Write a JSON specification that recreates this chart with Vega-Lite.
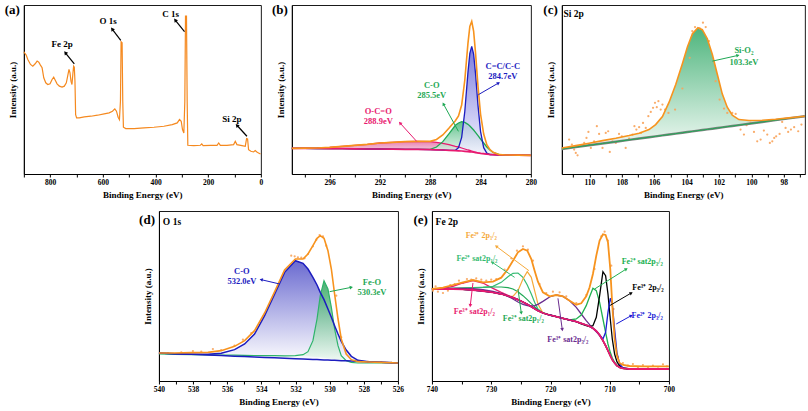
{
"$schema":"https://vega.github.io/schema/vega-lite/v6.json",
"padding":{"left":3.5,"top":3,"right":2,"bottom":2},
"background":"white",
"datasets":{
"a":[{"E":899.5,"v":366},{"E":897.5,"v":363},{"E":891.2,"v":356},{"E":884.9,"v":343},{"E":874.8,"v":328},{"E":866,"v":323},{"E":857.1,"v":330},{"E":849.6,"v":338},{"E":843.3,"v":335},{"E":837,"v":326},{"E":830.7,"v":318},{"E":824.4,"v":288},{"E":816.8,"v":273},{"E":809.2,"v":268},{"E":800.4,"v":270},{"E":792.8,"v":283},{"E":786.6,"v":290},{"E":780.2,"v":280},{"E":773.9,"v":270},{"E":765.1,"v":263},{"E":755,"v":260},{"E":746.3,"v":263},{"E":738.7,"v":273},{"E":733.6,"v":293},{"E":728.6,"v":313},{"E":724.8,"v":303},{"E":721,"v":278},{"E":717.3,"v":268},{"E":713.5,"v":303},{"E":711,"v":323},{"E":708.4,"v":320},{"E":705.9,"v":278},{"E":703.4,"v":178},{"E":699.6,"v":168},{"E":689.5,"v":168},{"E":670.6,"v":171},{"E":645.4,"v":173},{"E":620.2,"v":176},{"E":595,"v":180},{"E":576.1,"v":183},{"E":563.5,"v":188},{"E":554.6,"v":195},{"E":548.3,"v":188},{"E":542,"v":170},{"E":537,"v":163},{"E":533.2,"v":218},{"E":530.7,"v":396},{"E":526.9,"v":393},{"E":524.4,"v":218},{"E":521.9,"v":140},{"E":513,"v":136},{"E":481.5,"v":136},{"E":443.7,"v":138},{"E":405.9,"v":140},{"E":368.1,"v":143},{"E":336.6,"v":148},{"E":317.6,"v":153},{"E":308.8,"v":163},{"E":302.5,"v":158},{"E":297.5,"v":133},{"E":292.4,"v":123},{"E":288.7,"v":218},{"E":286.1,"v":473},{"E":282.4,"v":473},{"E":279.8,"v":218},{"E":277.3,"v":86},{"E":254.6,"v":85},{"E":229.4,"v":86},{"E":224.4,"v":90},{"E":219.3,"v":85},{"E":191.6,"v":86},{"E":166.4,"v":86},{"E":160.1,"v":93},{"E":153.8,"v":86},{"E":128.6,"v":86},{"E":103.4,"v":88},{"E":97.1,"v":98},{"E":90.8,"v":88},{"E":71.8,"v":85},{"E":59.2,"v":83},{"E":54.2,"v":106},{"E":50.4,"v":105},{"E":46.6,"v":73},{"E":37.8,"v":68},{"E":27.7,"v":66},{"E":21.4,"v":70},{"E":15.1,"v":66},{"E":8.8,"v":63},{"E":1.3,"v":60}],
"aT":[{"E":755,"v":388,"t":"Fe 2p"},{"E":579.8,"v":458,"t":"O 1s"},{"E":342.9,"v":480,"t":"C 1s"},{"E":109.7,"v":166,"t":"Si 2p"}],
"aA":[{"E":742.4,"v":363,"E0":708.4,"v0":330},{"E":564.7,"v":434,"E0":531.9,"v0":400},{"E":325.2,"v":461,"E0":289.9,"v0":426},{"E":90.8,"v":146,"E0":52.9,"v0":113}],
"b":[{"E":299,"bg":77,"oco":77,"co":77,"cc":77,"env":77},{"E":298,"bg":77,"oco":77.5,"co":77,"cc":77,"env":77.5},{"E":297,"bg":76.5,"oco":78,"co":76.5,"cc":76.5,"env":78},{"E":296,"bg":76,"oco":80,"co":76,"cc":76,"env":80},{"E":295,"bg":76,"oco":83,"co":76,"cc":76,"env":83},{"E":294,"bg":75.5,"oco":86,"co":75.5,"cc":75.5,"env":86},{"E":293,"bg":75,"oco":89,"co":75,"cc":75,"env":89},{"E":292,"bg":75,"oco":93,"co":75,"cc":75,"env":93},{"E":291,"bg":74.5,"oco":95,"co":74.5,"cc":74.5,"env":95},{"E":290,"bg":74,"oco":97,"co":74,"cc":74,"env":97},{"E":289,"bg":74,"oco":98,"co":74,"cc":74,"env":98},{"E":288,"bg":73,"oco":97,"co":74,"cc":73,"env":98},{"E":287.5,"bg":72.5,"oco":95,"co":81,"cc":72.5,"env":103.5},{"E":287,"bg":72,"oco":92,"co":97,"cc":72,"env":117},{"E":286.5,"bg":71,"oco":88,"co":121,"cc":71,"env":138},{"E":286,"bg":70,"oco":83,"co":146,"cc":71.3,"env":160},{"E":285.75,"bg":69.5,"oco":81,"co":153,"cc":79,"env":174},{"E":285.5,"bg":69,"oco":78,"co":157,"cc":110,"env":207},{"E":285.25,"bg":68,"oco":75,"co":155,"cc":188,"env":282},{"E":285,"bg":67,"oco":72,"co":149,"cc":305,"env":392},{"E":284.85,"bg":66.5,"oco":70.5,"co":144,"cc":362,"env":443},{"E":284.7,"bg":66,"oco":69,"co":138,"cc":383,"env":458},{"E":284.55,"bg":65,"oco":67,"co":132,"cc":360,"env":429},{"E":284.4,"bg":64,"oco":65.5,"co":125,"cc":302,"env":364},{"E":284.2,"bg":63,"oco":63.5,"co":115,"cc":205,"env":262},{"E":284,"bg":62,"oco":62,"co":105,"cc":128,"env":180},{"E":283.75,"bg":61,"oco":61,"co":93,"cc":79,"env":120},{"E":283.5,"bg":59.5,"oco":59.5,"co":81,"cc":62.5,"env":88},{"E":283.25,"bg":58.5,"oco":58.5,"co":72,"cc":58.5,"env":73},{"E":283,"bg":58,"oco":58,"co":65,"cc":58,"env":65},{"E":282.5,"bg":57,"oco":57,"co":58,"cc":57,"env":58},{"E":282,"bg":57,"oco":57,"co":57,"cc":57,"env":57},{"E":281,"bg":56.5,"oco":56.5,"co":56.5,"cc":56.5,"env":56.5},{"E":280,"bg":56,"oco":56,"co":56,"cc":56,"env":56}],
"bT":[{"E":282.23,"v":325,"t":"C=C/C-C","c":"cc"},{"E":282.23,"v":295,"t":"284.7eV","c":"cc"},{"E":287.88,"v":268,"t":"C-O","c":"co"},{"E":287.88,"v":238,"t":"285.5eV","c":"co"},{"E":292.13,"v":190,"t":"O-C=O","c":"oco"},{"E":292.13,"v":160,"t":"288.9eV","c":"oco"}],
"bA":[{"E":282.57,"v":273,"E0":284.17,"v0":238,"c":"cc"},{"E":286.95,"v":210,"E0":285.76,"v0":128,"c":"co"},{"E":290.4,"v":153,"E0":289.08,"v0":98,"c":"oco"}],
"c":[{"E":111.7,"bg":75,"env":78},{"E":110.84,"bg":80.6,"env":85},{"E":110.02,"bg":86,"env":92},{"E":109.19,"bg":91.4,"env":100},{"E":108.37,"bg":96.7,"env":107},{"E":107.55,"bg":102.1,"env":115},{"E":106.93,"bg":106.1,"env":122},{"E":106.32,"bg":110.1,"env":133},{"E":105.91,"bg":112.8,"env":148},{"E":105.49,"bg":115.5,"env":172},{"E":105.08,"bg":118.2,"env":215},{"E":104.67,"bg":120.9,"env":268},{"E":104.26,"bg":123.6,"env":330},{"E":103.95,"bg":125.6,"env":380},{"E":103.64,"bg":127.6,"env":420},{"E":103.3,"bg":129.9,"env":438},{"E":103.03,"bg":131.6,"env":432},{"E":102.72,"bg":133.6,"env":405},{"E":102.41,"bg":135.6,"env":358},{"E":102.1,"bg":137.7,"env":298},{"E":101.8,"bg":139.7,"env":240},{"E":101.49,"bg":141.7,"env":200},{"E":101.18,"bg":143.7,"env":176},{"E":100.77,"bg":146.4,"env":163},{"E":100.15,"bg":150.4,"env":160},{"E":99.33,"bg":155.8,"env":161},{"E":98.51,"bg":161.2,"env":164},{"E":97.69,"bg":166.5,"env":168},{"E":96.7,"bg":173,"env":173}],
"cP":[{"E":111.25,"v":103},{"E":111.08,"v":88},{"E":110.94,"v":73},{"E":110.84,"v":63},{"E":110.73,"v":56},{"E":110.53,"v":86},{"E":110.32,"v":93},{"E":110.18,"v":108},{"E":110.06,"v":126},{"E":109.91,"v":78},{"E":109.71,"v":98},{"E":109.54,"v":143},{"E":109.4,"v":120},{"E":109.19,"v":78},{"E":108.99,"v":123},{"E":108.84,"v":128},{"E":108.74,"v":66},{"E":108.58,"v":98},{"E":108.37,"v":93},{"E":108.17,"v":120},{"E":108,"v":113},{"E":107.76,"v":78},{"E":107.55,"v":106},{"E":107.34,"v":118},{"E":107.22,"v":143},{"E":107.1,"v":133},{"E":106.93,"v":140},{"E":106.81,"v":123},{"E":106.69,"v":153},{"E":106.52,"v":138},{"E":106.36,"v":173},{"E":106.21,"v":186},{"E":106.07,"v":198},{"E":105.95,"v":213},{"E":105.84,"v":200},{"E":105.74,"v":218},{"E":105.6,"v":193},{"E":105.49,"v":208},{"E":105.33,"v":193},{"E":105.12,"v":183},{"E":104.71,"v":193},{"E":104.26,"v":256},{"E":103.81,"v":348},{"E":103.65,"v":428},{"E":103.48,"v":440},{"E":103.19,"v":436},{"E":102.99,"v":453},{"E":102.82,"v":440},{"E":102.62,"v":398},{"E":102.21,"v":278},{"E":101.96,"v":223},{"E":101.69,"v":196},{"E":101.49,"v":183},{"E":101.18,"v":183},{"E":100.97,"v":180},{"E":100.67,"v":133},{"E":100.46,"v":118},{"E":100.3,"v":146},{"E":100.05,"v":153},{"E":99.84,"v":126},{"E":99.64,"v":98},{"E":99.43,"v":103},{"E":99.23,"v":130},{"E":99.02,"v":118},{"E":98.86,"v":93},{"E":98.71,"v":98},{"E":98.59,"v":108},{"E":98.47,"v":113},{"E":98.26,"v":120},{"E":98.1,"v":156},{"E":97.89,"v":138},{"E":97.73,"v":126},{"E":97.56,"v":133},{"E":97.36,"v":140},{"E":97.11,"v":128},{"E":96.91,"v":148}],
"cT":[{"E":100.46,"v":370,"t":"Si-O₂"},{"E":100.46,"v":335,"t":"103.3eV"}],
"cA":[{"E":100.83,"v":355,"E0":102.41,"v0":338}],
"d":[{"E":540,"bg":84,"co":84,"feo":81,"gb":81,"env":84},{"E":539.08,"bg":82,"co":82,"feo":80,"gb":80,"env":84},{"E":538.11,"bg":80,"co":80.5,"feo":79,"gb":79,"env":85},{"E":537.13,"bg":77.8,"co":80,"feo":78.5,"gb":78.5,"env":86},{"E":536.35,"bg":76.2,"co":83,"feo":78,"gb":78,"env":91},{"E":535.57,"bg":74.5,"co":94,"feo":77.5,"gb":77.5,"env":104},{"E":534.98,"bg":73.2,"co":111,"feo":77,"gb":77,"env":121},{"E":534.4,"bg":72,"co":141,"feo":76.5,"gb":76.5,"env":151},{"E":533.81,"bg":70.7,"co":196,"feo":76,"gb":76,"env":204},{"E":533.22,"bg":69.5,"co":261,"feo":76,"gb":76,"env":268},{"E":532.64,"bg":68.2,"co":326,"feo":75.5,"gb":75.5,"env":333},{"E":532.01,"bg":66.9,"co":361,"feo":76,"gb":76,"env":366},{"E":531.56,"bg":65.9,"co":353,"feo":79,"gb":75,"env":366},{"E":531.27,"bg":65.3,"co":336,"feo":88,"gb":74,"env":381},{"E":530.98,"bg":64.7,"co":311,"feo":121,"gb":73,"env":406},{"E":530.74,"bg":64.2,"co":288,"feo":186,"gb":72,"env":428},{"E":530.55,"bg":63.7,"co":266,"feo":256,"gb":71,"env":436},{"E":530.33,"bg":63.3,"co":244,"feo":301,"gb":70,"env":428},{"E":530.1,"bg":62.8,"co":216,"feo":276,"gb":68,"env":391},{"E":529.9,"bg":62.4,"co":191,"feo":221,"gb":67,"env":336},{"E":529.71,"bg":62,"co":166,"feo":156,"gb":65,"env":261},{"E":529.51,"bg":61.5,"co":141,"feo":106,"gb":63,"env":186},{"E":529.32,"bg":61.1,"co":119,"feo":76,"gb":61,"env":126},{"E":529.03,"bg":60.5,"co":93,"feo":61,"gb":58,"env":81},{"E":528.73,"bg":59.9,"co":74,"feo":56,"gb":56,"env":64},{"E":528.34,"bg":59,"co":62,"feo":54,"gb":54,"env":58},{"E":527.76,"bg":57.8,"co":57.8,"feo":54,"gb":54,"env":57},{"E":526.98,"bg":56.1,"co":56.1,"feo":54,"gb":54,"env":56},{"E":526,"bg":54,"co":54,"feo":54,"gb":54,"env":54}],
"dP":[{"E":539.47,"v":84},{"E":538.69,"v":86},{"E":538.01,"v":90},{"E":537.52,"v":88},{"E":536.84,"v":96},{"E":536.35,"v":93},{"E":535.57,"v":106},{"E":535.08,"v":124},{"E":534.59,"v":144},{"E":532.25,"v":376},{"E":532.05,"v":374},{"E":531.86,"v":371},{"E":531.66,"v":370},{"E":531.47,"v":368},{"E":531.27,"v":381},{"E":530.98,"v":404},{"E":530.78,"v":424},{"E":530.59,"v":438},{"E":530.39,"v":434},{"E":530.2,"v":406},{"E":529.61,"v":256},{"E":529.32,"v":131},{"E":528.54,"v":61},{"E":527.76,"v":58},{"E":526.98,"v":57},{"E":526.39,"v":55}],
"dT":[{"E":535.14,"v":331,"t":"C-O","c":"co"},{"E":535.14,"v":301,"t":"532.0eV","c":"co"},{"E":527.52,"v":298,"t":"Fe-O","c":"feo"},{"E":527.52,"v":268,"t":"530.3eV","c":"feo"}],
"dA":[{"E":534.01,"v":304,"E0":532.93,"v0":291,"c":"co"},{"E":528.73,"v":281,"E0":530.0,"v0":268,"c":"feo"}],
"e":[{"E":740,"bg":276,"p31":276,"g21b":276,"g21":276,"o21":276,"p33":276,"g23":276,"b33":276,"bl23":276,"env":276},
{"E":738.14,"bg":276,"p31":278,"g21b":277,"g21":277,"o21":276,"p33":277,"g23":276,"b33":276,"bl23":276,"env":280},
{"E":736.46,"bg":276,"p31":284,"g21b":278,"g21":278,"o21":276,"p33":278,"g23":276,"b33":276,"bl23":276,"env":288},
{"E":734.77,"bg":275,"p31":294,"g21b":279,"g21":279,"o21":275,"p33":278,"g23":275,"b33":275,"bl23":275,"env":296},
{"E":733.08,"bg":273,"p31":301,"g21b":280,"g21":280,"o21":273,"p33":277,"g23":273,"b33":273,"bl23":273,"env":303},
{"E":731.39,"bg":270,"p31":294,"g21b":281,"g21":281,"o21":270,"p33":274,"g23":270,"b33":270,"bl23":270,"env":296},
{"E":729.7,"bg":266,"p31":278,"g21b":282,"g21":284,"o21":266,"p33":269,"g23":266,"b33":266,"bl23":266,"env":298},
{"E":728.3,"bg":261,"p31":266,"g21b":282,"g21":296,"o21":261,"p33":262,"g23":261,"b33":261,"bl23":261,"env":310},
{"E":727.17,"bg":255,"p31":257,"g21b":280,"g21":313,"o21":255,"p33":254,"g23":255,"b33":255,"bl23":255,"env":336},
{"E":726.33,"bg":250,"p31":250,"g21b":276,"g21":323,"o21":254,"p33":246,"g23":250,"b33":250,"bl23":250,"env":361},
{"E":725.48,"bg":244,"p31":244,"g21b":268,"g21":324,"o21":271,"p33":237,"g23":244,"b33":244,"bl23":244,"env":386},
{"E":724.64,"bg":237,"p31":237,"g21b":256,"g21":311,"o21":306,"p33":230,"g23":237,"b33":237,"bl23":237,"env":396},
{"E":723.91,"bg":230,"p31":230,"g21b":244,"g21":288,"o21":328,"p33":226,"g23":230,"b33":230,"bl23":230,"env":391},
{"E":723.23,"bg":223,"p31":223,"g21b":232,"g21":261,"o21":311,"p33":225,"g23":223,"b33":223,"bl23":223,"env":366},
{"E":722.67,"bg":217,"p31":217,"g21b":223,"g21":236,"o21":271,"p33":226,"g23":217,"b33":217,"bl23":217,"env":331},
{"E":722.11,"bg":211,"p31":211,"g21b":214,"g21":216,"o21":231,"p33":230,"g23":211,"b33":211,"bl23":211,"env":298},
{"E":721.27,"bg":204,"p31":204,"g21b":205,"g21":204,"o21":204,"p33":239,"g23":204,"b33":204,"bl23":204,"env":266},
{"E":720.14,"bg":198,"p31":198,"g21b":198,"g21":198,"o21":198,"p33":252,"g23":198,"b33":198,"bl23":198,"env":254},
{"E":719.01,"bg":193,"p31":193,"g21b":193,"g21":193,"o21":193,"p33":258,"g23":193,"b33":193,"bl23":193,"env":258},
{"E":717.89,"bg":188,"p31":188,"g21b":188,"g21":188,"o21":188,"p33":254,"g23":188,"b33":188,"bl23":188,"env":254},
{"E":716.76,"bg":183,"p31":183,"g21b":183,"g21":183,"o21":183,"p33":241,"g23":183,"b33":183,"bl23":183,"env":241},
{"E":715.64,"bg":178,"p31":178,"g21b":178,"g21":178,"o21":178,"p33":221,"g23":186,"b33":178,"bl23":178,"env":229},
{"E":714.8,"bg":173,"p31":173,"g21b":173,"g21":173,"o21":173,"p33":201,"g23":198,"b33":171,"bl23":173,"env":233},
{"E":713.96,"bg":168,"p31":168,"g21b":168,"g21":168,"o21":168,"p33":181,"g23":226,"b33":166,"bl23":168,"env":254},
{"E":713.39,"bg":164,"p31":164,"g21b":164,"g21":164,"o21":164,"p33":169,"g23":253,"b33":163,"bl23":164,"env":281},
{"E":712.83,"bg":158,"p31":158,"g21b":158,"g21":158,"o21":158,"p33":158,"g23":278,"b33":166,"bl23":158,"env":321},
{"E":712.26,"bg":150,"p31":150,"g21b":150,"g21":150,"o21":150,"p33":148,"g23":271,"b33":191,"bl23":150,"env":376},
{"E":711.7,"bg":138,"p31":138,"g21b":138,"g21":138,"o21":138,"p33":136,"g23":236,"b33":256,"bl23":138,"env":421},
{"E":711.14,"bg":121,"p31":121,"g21b":121,"g21":121,"o21":121,"p33":121,"g23":186,"b33":328,"bl23":126,"env":440},
{"E":710.69,"bg":106,"p31":106,"g21b":106,"g21":106,"o21":106,"p33":106,"g23":146,"b33":316,"bl23":146,"env":438},
{"E":710.29,"bg":91,"p31":91,"g21b":91,"g21":91,"o21":91,"p33":91,"g23":111,"b33":261,"bl23":206,"env":416},
{"E":709.9,"bg":76,"p31":76,"g21b":76,"g21":76,"o21":76,"p33":76,"g23":86,"b33":186,"bl23":248,"env":336},
{"E":709.56,"bg":64,"p31":64,"g21b":64,"g21":64,"o21":64,"p33":64,"g23":69,"b33":126,"bl23":231,"env":226},
{"E":709.17,"bg":54,"p31":54,"g21b":54,"g21":54,"o21":54,"p33":54,"g23":56,"b33":81,"bl23":156,"env":126},
{"E":708.78,"bg":46,"p31":46,"g21b":46,"g21":46,"o21":46,"p33":46,"g23":48,"b33":58,"bl23":86,"env":76},
{"E":708.33,"bg":41,"p31":41,"g21b":41,"g21":41,"o21":41,"p33":41,"g23":42,"b33":46,"bl23":51,"env":54},
{"E":707.77,"bg":38,"p31":38,"g21b":38,"g21":38,"o21":38,"p33":38,"g23":38,"b33":39,"bl23":39,"env":48},
{"E":706.64,"bg":36,"p31":36,"g21b":36,"g21":36,"o21":36,"p33":36,"g23":36,"b33":36,"bl23":36,"env":45},
{"E":704.39,"bg":36,"p31":36,"g21b":36,"g21":36,"o21":36,"p33":36,"g23":36,"b33":36,"bl23":36,"env":44},
{"E":702.14,"bg":36,"p31":36,"g21b":36,"g21":36,"o21":36,"p33":36,"g23":36,"b33":36,"bl23":36,"env":44},
{"E":700,"bg":36,"p31":36,"g21b":36,"g21":36,"o21":36,"p33":36,"g23":36,"b33":36,"bl23":36,"env":44}],
"eP":[{"E":739.83,"v":271},{"E":739.38,"v":284},{"E":738.99,"v":268},{"E":738.59,"v":278},{"E":738.14,"v":264},{"E":737.69,"v":281},{"E":737.3,"v":271},{"E":736.91,"v":288},{"E":736.17,"v":291},{"E":735.44,"v":301},{"E":734.77,"v":294},{"E":734.09,"v":306},{"E":733.36,"v":304},{"E":732.52,"v":308},{"E":731.67,"v":304},{"E":730.83,"v":301},{"E":729.99,"v":304},{"E":729.14,"v":306},{"E":727.74,"v":334},{"E":726.61,"v":368},{"E":725.65,"v":391},{"E":724.64,"v":404},{"E":723.8,"v":394},{"E":722.95,"v":361},{"E":721.83,"v":291},{"E":720.7,"v":264},{"E":719.58,"v":268},{"E":718.45,"v":266},{"E":717.33,"v":254},{"E":715.64,"v":234},{"E":713.96,"v":258},{"E":712.55,"v":336},{"E":711.42,"v":434},{"E":710.86,"v":448},{"E":710.29,"v":421},{"E":709.73,"v":346},{"E":709.34,"v":216},{"E":708.61,"v":71},{"E":707.77,"v":54},{"E":706.92,"v":46},{"E":706.08,"v":51},{"E":705.23,"v":41},{"E":704.39,"v":48},{"E":703.54,"v":40},{"E":702.7,"v":46},{"E":701.85,"v":38},{"E":701.01,"v":50},{"E":700.34,"v":44}],
"eT":[{"E":731.67,"v":434,"t":"Fe²⁺ 2p₁/₂","c":"o21"},{"E":732.4,"v":366,"t":"Fe²⁺ sat2p₁/₂","c":"g21"},{"E":732.85,"v":206,"t":"Fe³⁺ sat2p₁/₂","c":"p31"},{"E":724.58,"v":186,"t":"Fe²⁺ sat2p₁/₂","c":"g21b"},{"E":717.05,"v":124,"t":"Fe³⁺ sat2p₃/₂","c":"p33"},{"E":704.5,"v":356,"t":"Fe²⁺ sat2p₃/₂","c":"g23"},{"E":703.54,"v":279,"t":"Fe³⁺ 2p₃/₂","c":"b33"},{"E":703.66,"v":196,"t":"Fe²⁺ 2p₃/₂","c":"bl23"}],
"eA":[{"E":729.14,"v":404,"E0":723.63,"v0":331,"c":"o21"},{"E":729.82,"v":356,"E0":726.05,"v0":311,"c":"g21"},{"E":733.53,"v":226,"E0":733.08,"v0":294,"c":"p31"},{"E":724.92,"v":204,"E0":725.48,"v0":276,"c":"g21b"},{"E":718,"v":154,"E0":718.73,"v0":248,"c":"p33"},{"E":707.2,"v":336,"E0":712.55,"v0":276,"c":"g23"},{"E":706.36,"v":264,"E0":710.01,"v0":226,"c":"b33"},{"E":706.36,"v":196,"E0":708.89,"v0":171,"c":"bl23"}]
},
"vconcat":[
{"hconcat":[
{"width":237,"height":169,
"data":{"name":"a"},
"encoding":{"x":{"field":"E","type":"quantitative","scale":{"domain":[0,900],"reverse":true,"nice":false,"zero":false},"axis":{"title":"Binding Energy (eV)","values":[0,100,200,300,400,500,600,700,800,900],"labelExpr":"datum.value % 200 == 0 && datum.value < 900 ? datum.label : ''"}},
"y":{"field":"v","type":"quantitative","scale":{"domain":[0,506],"nice":false,"zero":false},"axis":{"title":"Intensity (a.u.)"}}},
"layer":[
{"mark":{"type":"line","color":"#f5891f","strokeWidth":1.2}},
{"data":{"name":"aA"},"mark":{"type":"rule","color":"#000","strokeWidth":1.2},"encoding":{"x2":{"field":"E0"},"y2":{"field":"v0"}}},
{"data":{"name":"aA"},"transform":[{"calculate":"atan2(-(datum.E-datum.E0)*0.2633,(datum.v-datum.v0)*0.334)*180/PI","as":"ang"}],
"mark":{"type":"point","shape":"triangle-up","filled":true,"size":18,"color":"#000","opacity":1},
"encoding":{"angle":{"field":"ang","type":"quantitative","scale":null}}},
{"data":{"name":"aT"},"mark":{"type":"text","fontSize":9,"color":"#000"},"encoding":{"text":{"field":"t"}}},
{"data":{"values":[{"E":915.2,"v":479,"t":"(a)"}]},"mark":{"type":"text","fontSize":13,"color":"#000","align":"right","baseline":"alphabetic"},"encoding":{"text":{"field":"t"}}}
]},
{"width":239,"height":169,
"data":{"name":"b"},
"transform":[{"fold":["bg","oco","co","cc","env"],"as":["k","v"]}],
"encoding":{"x":{"field":"E","type":"quantitative","scale":{"domain":[280,299],"reverse":true,"nice":false,"zero":false},"axis":{"title":"Binding Energy (eV)","values":[280,282,284,286,288,290,292,294,296,298],"labelExpr":"datum.value % 4 == 0 ? datum.label : ''"}},
"y":{"field":"v","type":"quantitative","scale":{"domain":[0,507],"nice":false,"zero":false},"axis":{"title":"Intensity (a.u.)"}}},
"layer":[
{"transform":[{"filter":"datum.k == 'oco'"}],"mark":{"type":"area","opacity":0.75,"fill":{"gradient":"linear","x1":0,"y1":0,"x2":0,"y2":1,"stops":[{"offset":0,"color":"#e0589a"},{"offset":1,"color":"#fbe6f0"}]}},"encoding":{"y2":{"field":"bg"}}},
{"transform":[{"filter":"datum.k == 'co'"}],"mark":{"type":"area","opacity":0.8,"fill":{"gradient":"linear","x1":0,"y1":0,"x2":0,"y2":1,"stops":[{"offset":0,"color":"#3cb371"},{"offset":1,"color":"#f4fbf7"}]}},"encoding":{"y2":{"field":"bg"}}},
{"transform":[{"filter":"datum.k == 'cc'"}],"mark":{"type":"area","opacity":0.8,"fill":{"gradient":"linear","x1":0,"y1":0,"x2":0,"y2":1,"stops":[{"offset":0,"color":"#5a5ad6"},{"offset":1,"color":"#f4f4ff"}]}},"encoding":{"y2":{"field":"bg"}}},
{"transform":[{"filter":"datum.k == 'oco'"}],"mark":{"type":"line","color":"#e8196f","strokeWidth":1.3}},
{"transform":[{"filter":"datum.k == 'co'"}],"mark":{"type":"line","color":"#1fa855","strokeWidth":1.3}},
{"transform":[{"filter":"datum.k == 'cc'"}],"mark":{"type":"line","color":"#1c1cbf","strokeWidth":1.3}},
{"transform":[{"filter":"datum.k == 'bg'"}],"mark":{"type":"line","color":"#e8196f","strokeWidth":1.6}},
{"transform":[{"filter":"datum.k == 'env'"}],"mark":{"type":"line","color":"#f7931e","strokeWidth":1.6}},
{"data":{"name":"bA"},"mark":{"type":"rule","strokeWidth":1},
"encoding":{"x2":{"field":"E0"},"y2":{"field":"v0"},"color":{"field":"c","type":"nominal","scale":{"domain":["oco","co","cc"],"range":["#e8196f","#1fa855","#1c1cbf"]},"legend":null}}},
{"data":{"name":"bA"},"transform":[{"calculate":"atan2(-(datum.E-datum.E0)*12.58,(datum.v-datum.v0)*0.3333)*180/PI","as":"ang"}],
"mark":{"type":"point","shape":"triangle-up","filled":true,"size":14,"opacity":1},
"encoding":{"angle":{"field":"ang","type":"quantitative","scale":null},"color":{"field":"c","type":"nominal","scale":{"domain":["oco","co","cc"],"range":["#e8196f","#1fa855","#1c1cbf"]},"legend":null}}},
{"data":{"name":"bT"},"mark":{"type":"text","fontSize":8.5},
"encoding":{"text":{"field":"t"},"color":{"field":"c","type":"nominal","scale":{"domain":["oco","co","cc"],"range":["#e8196f","#1fa855","#1c1cbf"]},"legend":null}}},
{"data":{"values":[{"E":299.32,"v":480,"t":"(b)"}]},"mark":{"type":"text","fontSize":13,"color":"#000","align":"right","baseline":"alphabetic"},"encoding":{"text":{"field":"t"}}}
]},
{"width":243,"height":169,
"data":{"name":"c"},
"transform":[{"fold":["bg","env"],"as":["k","v"]}],
"encoding":{"x":{"field":"E","type":"quantitative","scale":{"domain":[96.7,111.7],"reverse":true,"nice":false,"zero":false},"axis":{"title":"Binding Energy (eV)","values":[97,98,99,100,101,102,103,104,105,106,107,108,109,110,111],"labelExpr":"datum.value % 2 == 0 ? datum.label : ''"}},
"y":{"field":"v","type":"quantitative","scale":{"domain":[0,506],"nice":false,"zero":false},"axis":{"title":"Intensity (a.u.)"}}},
"layer":[
{"transform":[{"filter":"datum.k == 'env'"}],"mark":{"type":"area","opacity":0.85,"fill":{"gradient":"linear","x1":0,"y1":0,"x2":0,"y2":1,"stops":[{"offset":0,"color":"#2fa866"},{"offset":1,"color":"#eef8f2"}]}},"encoding":{"y2":{"field":"bg"}}},
{"data":{"name":"cP"},"mark":{"type":"point","shape":"circle","filled":true,"size":5,"color":"#f8a35a","opacity":0.9}},
{"transform":[{"filter":"datum.k == 'bg'"}],"mark":{"type":"line","color":"#808080","strokeWidth":2.4}},
{"transform":[{"filter":"datum.k == 'bg'"}],"mark":{"type":"line","color":"#1fa855","strokeWidth":1}},
{"transform":[{"filter":"datum.k == 'env'"}],"mark":{"type":"line","color":"#f7931e","strokeWidth":1.6}},
{"data":{"name":"cA"},"mark":{"type":"rule","strokeWidth":1,"color":"#1fa855"},"encoding":{"x2":{"field":"E0"},"y2":{"field":"v0"}}},
{"data":{"name":"cA"},"transform":[{"calculate":"atan2(-(datum.E-datum.E0)*16.2,(datum.v-datum.v0)*0.334)*180/PI","as":"ang"}],
"mark":{"type":"point","shape":"triangle-up","filled":true,"size":14,"opacity":1,"color":"#1fa855"},
"encoding":{"angle":{"field":"ang","type":"quantitative","scale":null}}},
{"data":{"name":"cT"},"mark":{"type":"text","fontSize":8.5,"color":"#1fa855"},"encoding":{"text":{"field":"t"}}},
{"data":{"values":[{"E":111.6,"v":478,"t":"Si 2p"}]},"mark":{"type":"text","fontSize":9.5,"color":"#000","align":"left"},"encoding":{"text":{"field":"t"}}},
{"data":{"values":[{"E":111.95,"v":479,"t":"(c)"}]},"mark":{"type":"text","fontSize":13,"color":"#000","align":"right","baseline":"alphabetic"},"encoding":{"text":{"field":"t"}}}
]}
],"spacing":31,"bounds":"flush","resolve":{"scale":{"color":"independent"}}},
{"hconcat":[
{"width":239,"height":170,
"data":{"name":"d"},
"transform":[{"fold":["bg","co","feo","env"],"as":["k","v"]}],
"encoding":{"x":{"field":"E","type":"quantitative","scale":{"domain":[526,540],"reverse":true,"nice":false,"zero":false},"axis":{"title":"Binding Energy (eV)","values":[526,527,528,529,530,531,532,533,534,535,536,537,538,539,540],"labelExpr":"datum.value % 2 == 0 ? datum.label : ''"}},
"y":{"field":"v","type":"quantitative","scale":{"domain":[0,510],"nice":false,"zero":false},"axis":{"title":"Intensity (a.u.)"}}},
"layer":[
{"transform":[{"filter":"datum.k == 'co'"}],"mark":{"type":"area","opacity":0.85,"fill":{"gradient":"linear","x1":0,"y1":0,"x2":0,"y2":1,"stops":[{"offset":0,"color":"#5050c8"},{"offset":1,"color":"#ffffff"}]}},"encoding":{"y2":{"field":"bg"}}},
{"transform":[{"filter":"datum.k == 'feo'"}],"mark":{"type":"area","opacity":0.85,"fill":{"gradient":"linear","x1":0,"y1":0,"x2":0,"y2":1,"stops":[{"offset":0,"color":"#2aa35a"},{"offset":1,"color":"#f2fbf5"}]}},"encoding":{"y2":{"field":"gb"}}},
{"data":{"name":"dP"},"mark":{"type":"point","shape":"circle","filled":true,"size":5,"color":"#f8a35a","opacity":0.9}},
{"transform":[{"filter":"datum.k == 'feo'"}],"mark":{"type":"line","color":"#2db36a","strokeWidth":1.2}},
{"transform":[{"filter":"datum.k == 'co'"}],"mark":{"type":"line","color":"#1c1cbf","strokeWidth":1.5}},
{"transform":[{"filter":"datum.k == 'bg'"}],"mark":{"type":"line","color":"#1c1cbf","strokeWidth":1.5}},
{"transform":[{"filter":"datum.k == 'env'"}],"mark":{"type":"line","color":"#f7931e","strokeWidth":1.6}},
{"data":{"name":"dA"},"mark":{"type":"rule","strokeWidth":1},
"encoding":{"x2":{"field":"E0"},"y2":{"field":"v0"},"color":{"field":"c","type":"nominal","scale":{"domain":["co","feo"],"range":["#1c1cbf","#1fa855"]},"legend":null}}},
{"data":{"name":"dA"},"transform":[{"calculate":"atan2(-(datum.E-datum.E0)*17.07,(datum.v-datum.v0)*0.3333)*180/PI","as":"ang"}],
"mark":{"type":"point","shape":"triangle-up","filled":true,"size":14,"opacity":1},
"encoding":{"angle":{"field":"ang","type":"quantitative","scale":null},"color":{"field":"c","type":"nominal","scale":{"domain":["co","feo"],"range":["#1c1cbf","#1fa855"]},"legend":null}}},
{"data":{"name":"dT"},"mark":{"type":"text","fontSize":8.5},
"encoding":{"text":{"field":"t"},"color":{"field":"c","type":"nominal","scale":{"domain":["co","feo"],"range":["#1c1cbf","#1fa855"]},"legend":null}}},
{"data":{"values":[{"E":539.77,"v":476,"t":"O 1s"}]},"mark":{"type":"text","fontSize":9.5,"color":"#000","align":"left"},"encoding":{"text":{"field":"t"}}},
{"data":{"values":[{"E":540.23,"v":472,"t":"(d)"}]},"mark":{"type":"text","fontSize":13,"color":"#000","align":"right","baseline":"alphabetic"},"encoding":{"text":{"field":"t"}}}
]},
{"width":237,"height":170,
"data":{"name":"e"},
"transform":[{"fold":["bg","p31","g21b","g21","o21","p33","g23","b33","bl23","env"],"as":["k","v"]}],
"encoding":{"x":{"field":"E","type":"quantitative","scale":{"domain":[700,740],"reverse":true,"nice":false,"zero":false},"axis":{"title":"Binding Energy (eV)","values":[700,705,710,715,720,725,730,735,740],"labelExpr":"datum.value % 10 == 0 ? datum.label : ''"}},
"y":{"field":"v","type":"quantitative","scale":{"domain":[0,510],"nice":false,"zero":false},"axis":{"title":"Intensity (a.u.)"}}},
"layer":[
{"data":{"name":"eP"},"mark":{"type":"point","shape":"circle","filled":true,"size":5,"color":"#f8a35a","opacity":0.9}},
{"transform":[{"filter":"datum.k == 'p31'"}],"mark":{"type":"line","color":"#e8196f","strokeWidth":1.3}},
{"transform":[{"filter":"datum.k == 'g21b'"}],"mark":{"type":"line","color":"#1fa855","strokeWidth":1.2}},
{"transform":[{"filter":"datum.k == 'g21'"}],"mark":{"type":"line","color":"#35bb72","strokeWidth":1.2}},
{"transform":[{"filter":"datum.k == 'o21'"}],"mark":{"type":"line","color":"#f5a93b","strokeWidth":1.2}},
{"transform":[{"filter":"datum.k == 'p33'"}],"mark":{"type":"line","color":"#6b2d8f","strokeWidth":1.3}},
{"transform":[{"filter":"datum.k == 'g23'"}],"mark":{"type":"line","color":"#20b050","strokeWidth":1.3}},
{"transform":[{"filter":"datum.k == 'b33'"}],"mark":{"type":"line","color":"#000000","strokeWidth":1.3}},
{"transform":[{"filter":"datum.k == 'bl23'"}],"mark":{"type":"line","color":"#1c1cd6","strokeWidth":1.3}},
{"transform":[{"filter":"datum.k == 'bg'"}],"mark":{"type":"line","color":"#e8196f","strokeWidth":1.8}},
{"transform":[{"filter":"datum.k == 'env'"}],"mark":{"type":"line","color":"#f7931e","strokeWidth":1.8}},
{"data":{"name":"eA"},"mark":{"type":"rule","strokeWidth":1},
"encoding":{"x2":{"field":"E0"},"y2":{"field":"v0"},"color":{"field":"c","type":"nominal","scale":{"domain":["o21","g21","p31","g21b","p33","g23","b33","bl23"],"range":["#f5a93b","#35bb72","#e8196f","#1fa855","#6b2d8f","#20b050","#000000","#1c1cd6"]},"legend":null}}},
{"data":{"name":"eA"},"transform":[{"calculate":"atan2(-(datum.E-datum.E0)*5.925,(datum.v-datum.v0)*0.3333)*180/PI","as":"ang"}],
"mark":{"type":"point","shape":"triangle-up","filled":true,"size":14,"opacity":1},
"encoding":{"angle":{"field":"ang","type":"quantitative","scale":null},"color":{"field":"c","type":"nominal","scale":{"domain":["o21","g21","p31","g21b","p33","g23","b33","bl23"],"range":["#f5a93b","#35bb72","#e8196f","#1fa855","#6b2d8f","#20b050","#000000","#1c1cd6"]},"legend":null}}},
{"data":{"name":"eT"},"mark":{"type":"text","fontSize":8},
"encoding":{"text":{"field":"t"},"color":{"field":"c","type":"nominal","scale":{"domain":["o21","g21","p31","g21b","p33","g23","b33","bl23"],"range":["#f5a93b","#35bb72","#e8196f","#1fa855","#6b2d8f","#20b050","#000000","#1c1cd6"]},"legend":null}}},
{"data":{"values":[{"E":739.38,"v":476,"t":"Fe 2p"}]},"mark":{"type":"text","fontSize":9.5,"color":"#000","align":"left"},"encoding":{"text":{"field":"t"}}},
{"data":{"values":[{"E":740.68,"v":472,"t":"(e)"}]},"mark":{"type":"text","fontSize":13,"color":"#000","align":"right","baseline":"alphabetic"},"encoding":{"text":{"field":"t"}}}
]}
],"spacing":34,"bounds":"flush","resolve":{"scale":{"color":"independent"}}}
],
"spacing":10,
"center":true,
"resolve":{"scale":{"color":"independent"}},
"config":{
"font":"Liberation Serif",
"view":{"stroke":"#1a1a1a","strokeWidth":1},
"axisX":{"labelFont":"Liberation Serif","labelFontWeight":"bold","labelFontSize":7.5,"labelColor":"#000","labelPadding":1,"labelFlush":false,"labelOverlap":false,"titleFont":"Liberation Serif","titleFontWeight":"bold","titleFontSize":9,"titleColor":"#000","titlePadding":5,"tickColor":"#000","tickSize":3,"domainColor":"#000","grid":false},
"axisY":{"labels":false,"ticks":false,"grid":false,"domainColor":"#000","titleFont":"Liberation Serif","titleFontWeight":"bold","titleFontSize":9,"titleColor":"#000","titlePadding":6},
"text":{"font":"Liberation Serif","fontWeight":"bold","fontSize":8.5}
}
}
